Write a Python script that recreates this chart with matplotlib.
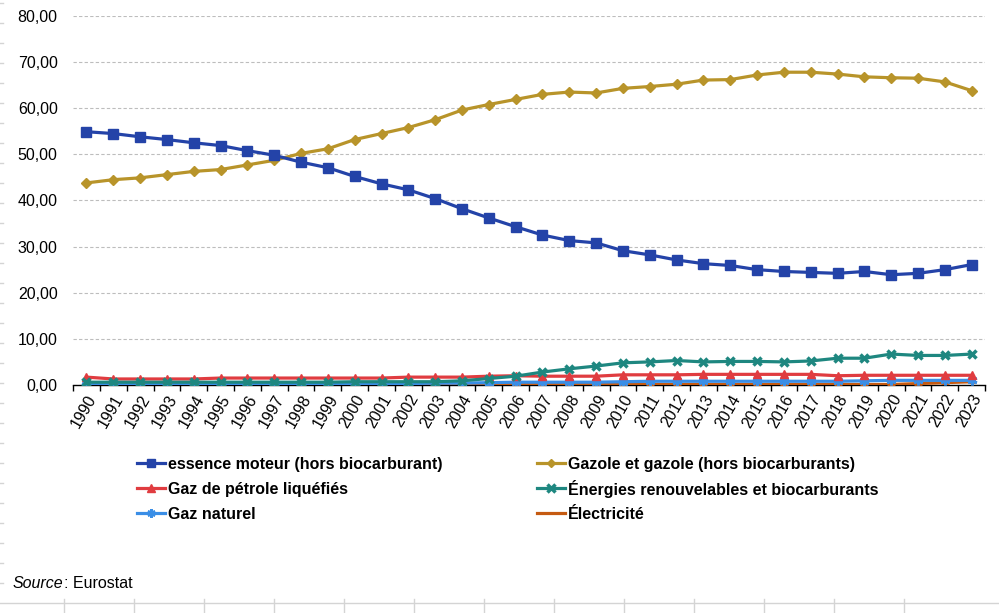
import matplotlib.pyplot as plt
from matplotlib.lines import Line2D
import numpy as np

plt.rcParams['font.family'] = ['Liberation Sans', 'DejaVu Sans']

years = list(range(1990, 2024))

essence = [54.9, 54.5, 53.8, 53.2, 52.5, 51.9, 50.8, 49.8, 48.3, 47.1,
           45.2, 43.6, 42.3, 40.4, 38.2, 36.2, 34.3, 32.5, 31.3, 30.8,
           29.1, 28.2, 27.1, 26.3, 25.9, 25.0, 24.6, 24.4, 24.2, 24.6,
           23.9, 24.2, 25.0, 26.1]
gazole = [43.8, 44.5, 44.9, 45.6, 46.3, 46.7, 47.7, 48.7, 50.2, 51.2,
          53.2, 54.5, 55.8, 57.5, 59.6, 60.8, 61.9, 63.0, 63.5, 63.3,
          64.3, 64.7, 65.2, 66.1, 66.2, 67.2, 67.8, 67.8, 67.4, 66.8,
          66.6, 66.5, 65.7, 63.8]
gpl = [1.7, 1.3, 1.3, 1.3, 1.3, 1.5, 1.5, 1.5, 1.5, 1.5,
       1.5, 1.5, 1.7, 1.7, 1.7, 1.9, 2.0, 1.9, 1.9, 1.9,
       2.2, 2.2, 2.2, 2.3, 2.3, 2.3, 2.3, 2.3, 2.0, 2.1,
       2.1, 2.1, 2.1, 2.1]
renouv = [0.6, 0.6, 0.6, 0.6, 0.6, 0.6, 0.6, 0.6, 0.6, 0.6,
          0.7, 0.7, 0.7, 0.7, 0.9, 1.4, 1.9, 2.8, 3.5, 4.1,
          4.8, 5.0, 5.3, 5.0, 5.1, 5.1, 5.0, 5.2, 5.8, 5.8,
          6.7, 6.4, 6.4, 6.7]
gaz_naturel = [0.1, 0.1, 0.1, 0.1, 0.1, 0.2, 0.2, 0.2, 0.2, 0.2,
               0.3, 0.3, 0.3, 0.4, 0.4, 0.5, 0.6, 0.6, 0.6, 0.6,
               0.7, 0.8, 0.8, 0.8, 0.8, 0.8, 0.8, 0.8, 0.8, 0.9,
               1.0, 1.0, 1.0, 1.0]
electricite = [0.1, 0.1, 0.1, 0.1, 0.1, 0.1, 0.1, 0.1, 0.1, 0.1,
               0.1, 0.1, 0.1, 0.1, 0.1, 0.1, 0.1, 0.1, 0.1, 0.1,
               0.1, 0.1, 0.1, 0.1, 0.1, 0.1, 0.1, 0.1, 0.1, 0.1,
               0.1, 0.3, 0.5, 0.7]

fig = plt.figure(figsize=(9.99, 6.13), dpi=100)
ax = fig.add_axes([0.0731, 0.372, 0.913, 0.602])

x = np.arange(len(years))
lw = 2.3
ax.plot(x, electricite, color='#C55A11', lw=lw, marker='_', ms=6, mew=2, label='Électricité', zorder=3)
ax.plot(x, gaz_naturel, color='#3A8EE6', lw=lw, marker=(6, 2, 0), ms=7, mew=2, label='Gaz naturel', zorder=4)
ax.plot(x, gpl, color='#E03C40', lw=lw, marker='^', ms=6, label='Gaz de pétrole liquéfiés', zorder=5)
ax.plot(x, renouv, color='#1E8780', lw=lw, marker='x', ms=6, mew=2.5, label='Énergies renouvelables et biocarburants', zorder=6)
ax.plot(x, gazole, color='#B8942A', lw=lw, marker='D', ms=5, label='Gazole et gazole (hors biocarburants)', zorder=7)
ax.plot(x, essence, color='#2443A8', lw=lw, marker='s', ms=6.5, label='essence moteur (hors biocarburant)', zorder=8)

ax.set_xlim(-0.5, len(years) - 0.5)
ax.set_ylim(0, 80)
ax.set_yticks(np.arange(0, 81, 10))
ax.set_yticklabels([f'{v:.2f}'.replace('.', ',') for v in range(0, 81, 10)], fontsize=11.5)
ax.yaxis.grid(True, color='#bdbdbd', linestyle=(0, (3, 2)), lw=0.8)
ax.set_axisbelow(True)
ax.tick_params(axis='y', length=0, pad=11)

ax.set_xticks(x)
ax.set_xticklabels([str(y) for y in years], rotation=60, ha='right', rotation_mode='anchor', fontsize=11.5)
ax.tick_params(axis='x', which='major', length=0, pad=5)
ax.set_xticks(np.arange(-0.5, len(years), 1), minor=True)
ax.tick_params(axis='x', which='minor', length=4, width=1, color='black')

for s in ['top', 'right', 'left']:
    ax.spines[s].set_visible(False)
ax.spines['bottom'].set_color('black')
ax.spines['bottom'].set_linewidth(1)

# legend drawn by hand so both columns share the same rows
handles, labels = ax.get_legend_handles_labels()
lookup = dict(zip(labels, handles))
rows = [['essence moteur (hors biocarburant)', 'Gazole et gazole (hors biocarburants)'],
        ['Gaz de pétrole liquéfiés', 'Énergies renouvelables et biocarburants'],
        ['Gaz naturel', 'Électricité']]
col_x = [137, 537]
W, H = 999, 613
for r, row in enumerate(rows):
    yp = 463 + 25 * r
    for c, lab in enumerate(row):
        h = lookup[lab]
        x0 = col_x[c]
        fig.add_artist(Line2D([x0 / W, (x0 + 28) / W], [1 - yp / H] * 2,
                              color=h.get_color(), lw=lw))
        fig.add_artist(Line2D([(x0 + 14) / W], [1 - yp / H], color=h.get_color(),
                              marker=h.get_marker(), ms=h.get_markersize() * 0.85,
                              mew=h.get_markeredgewidth(), ls='none'))
        fig.text((x0 + 31) / W, 1 - yp / H, lab, fontsize=11.5, weight='bold',
                 va='center_baseline')

t1 = fig.text(0.013, 0.048, 'Source', style='italic', fontsize=11.5, va='center')
fig.canvas.draw()
bb = t1.get_window_extent().transformed(fig.transFigure.inverted())
fig.text(bb.x1, 0.048, ': Eurostat', fontsize=11.5, va='center')

# faint spreadsheet cell borders
grey = '#d4d4d4'
for yp in np.arange(3.3, 600, 20):
    fig.add_artist(Line2D([0, 3 / 999], [1 - yp / 613] * 2, color=grey, lw=1))
fig.add_artist(Line2D([0, 1], [1 - 603 / 613] * 2, color=grey, lw=1))
for xp in np.arange(64.3, 910, 70):
    fig.add_artist(Line2D([xp / 999] * 2, [0, 1 - 599 / 613], color=grey, lw=1))

fig.savefig('out.png', dpi=100)
